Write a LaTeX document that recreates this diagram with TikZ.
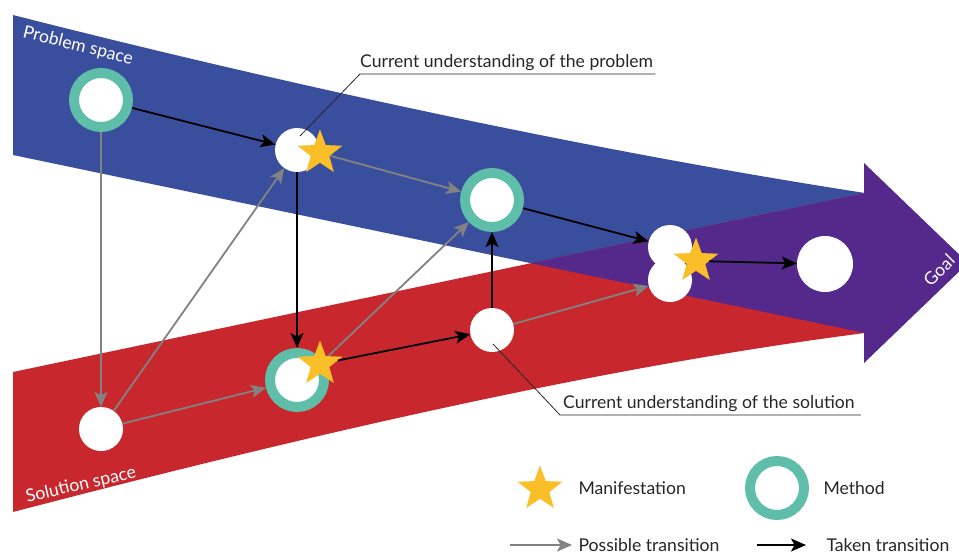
\documentclass[tikz,border=0pt]{standalone}
\usepackage{fontspec}
\setmainfont{Lato}
\usetikzlibrary{shapes.geometric,arrows.meta}

\definecolor{probblue}{RGB}{58,78,158}
\definecolor{solred}{RGB}{200,40,45}
\definecolor{goalpurple}{RGB}{85,40,140}
\definecolor{methteal}{RGB}{95,190,170}
\definecolor{manyellow}{RGB}{250,190,40}
\definecolor{possgray}{RGB}{130,130,130}

\begin{document}
\begin{tikzpicture}[x=1pt,y=-1pt,
	blank/.style={circle,fill=white,inner sep=0pt,minimum size=44pt},
	method/.style={circle,fill=white,draw=methteal,line width=10pt,inner sep=0pt,minimum size=54pt},
	manifest/.style={star,star points=5,star point ratio=2.4,fill=manyellow,inner sep=0pt,minimum size=47pt},
	possible/.style={draw=possgray,line width=1.8pt,-{Stealth[length=15pt,width=13pt,inset=3.5pt]}},
	taken/.style={draw=black,line width=1.8pt,-{Stealth[length=15pt,width=13pt,inset=3.5pt]}},
	pin/.style={draw=black!85,line width=0.8pt},
	legendtext/.style={font=\fontsize{17.6}{20}\selectfont,text=black!85},
	bandtext/.style={font=\fontsize{17.6}{20}\selectfont,text=white}]
	\useasboundingbox (0,0) rectangle (959,554);
	
	% Bands
	\fill[probblue] (13,15) .. controls (300,88) and (600,152) .. (865,193) -- (865,333) -- (13,155) -- cycle;
	\fill[solred] (13,372) -- (865,193) -- (865,333) .. controls (600,367) and (300,437) .. (13,512) -- cycle;
	\begin{scope}
		\clip (13,15) .. controls (300,88) and (600,152) .. (865,193) -- (865,333) -- (13,155) -- cycle;
		\fill[goalpurple] (13,372) -- (865,193) -- (865,333) .. controls (600,367) and (300,437) .. (13,512) -- cycle;
	\end{scope}
	\fill[goalpurple] (864,163) -- (968,263) -- (864,363) -- cycle; % arrow head
	
	\node[bandtext,rotate=-14] (probname) at (78,46) {Problem space};
	\node[bandtext,rotate=13] (solname) at (81,485) {Solution space};
	\node[bandtext,rotate=45] (goalname) at (939,270) {Goal};
	
	% States
	\node[method] (prob0) at (101,100) {};
	\node[blank] (prob1) at (297,150) {};
	\node[manifest] (prob1star) at (320,153) {};
	\node[method] (prob2) at (492,200) {};
	\node[blank] (mergetop) at (670,247) {};
	\node[blank] (mergebot) at (670,280) {};
	\node[manifest] (mergestar) at (696,261) {};
	\node[blank,minimum size=56pt] (goal) at (825,264) {};
	\node[blank] (sol0) at (101,429) {};
	\node[method] (sol1) at (297,380) {};
	\node[manifest] (sol1star) at (320,364) {};
	\node[blank] (sol2) at (492,330) {};
	
	% Possible transitions
	\draw[possible] (prob0) -- (sol0);
	\draw[possible] (sol0) -- (prob1);
	\draw[possible] (sol0) -- (sol1);
	\draw[possible] (prob1star) -- (prob2);
	\draw[possible] (sol1star) -- (prob2);
	\draw[possible] (sol2) -- (mergebot);
	
	% Taken transitions
	\draw[taken] (prob0) -- (prob1);
	\draw[taken] (prob1) -- (sol1);
	\draw[taken] (sol1star) -- (sol2);
	\draw[taken] (sol2) -- (prob2);
	\draw[taken] (prob2) -- (mergetop);
	\draw[taken] (mergestar) -- (goal);
	
	% Callouts
	\coordinate (probpin) at (300,136);
	\coordinate (probbend) at (360,74);
	\node[legendtext,anchor=south west,inner xsep=0pt,inner ysep=3pt] (probtext) at (probbend) {Current understanding of the problem};
	\draw[pin] (probpin) -- (probbend) -- ([xshift=2pt]probtext.south east);
	
	\coordinate (solpin) at (493,344);
	\coordinate (solbend) at (560,415);
	\node[legendtext,anchor=south west,inner xsep=3pt,inner ysep=3pt] (soltext) at (solbend) {Current understanding of the solution};
	\draw[pin] (solpin) -- (solbend) -- ([xshift=3pt]soltext.south east);
	
	% Legend
	\node[manifest] (keystar) at (540,489) {};
	\node[legendtext,anchor=west] (keystartext) at (575,488) {Manifestation};
	\node[method] (keyring) at (777,488) {};
	\node[legendtext,anchor=west] (keyringtext) at (820,488) {Method};
	
	\coordinate (keypossfrom) at (510,545);
	\coordinate (keypossto) at (572,545);
	\node[legendtext,anchor=west] (keypossible) at (575,545) {Possible transition};
	\draw[possible] (keypossfrom) -- (keypossto);
	
	\coordinate (keytakenfrom) at (757,545);
	\coordinate (keytakento) at (806,545);
	\node[legendtext,anchor=west] (keytaken) at (823,545) {Taken transition};
	\draw[taken] (keytakenfrom) -- (keytakento);
\end{tikzpicture}
\end{document}
